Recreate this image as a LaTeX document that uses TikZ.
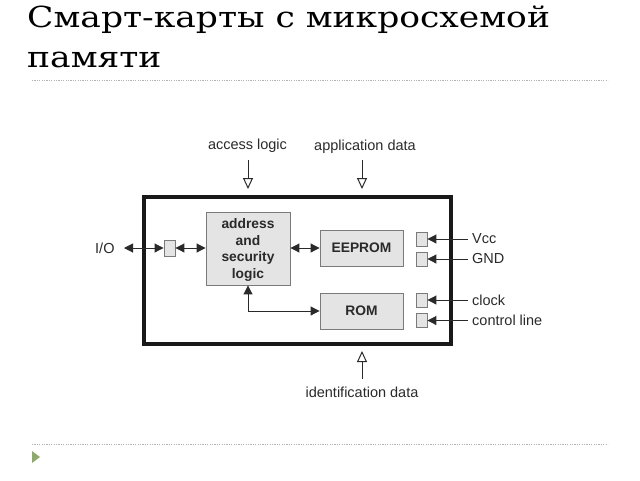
\documentclass[tikz,border=0pt]{standalone}
\usepackage{fontspec}
\setmainfont{Liberation Sans}
\newfontfamily\titlefont[FakeStretch=1.19]{DejaVu Serif}
\usetikzlibrary{arrows.meta}
\definecolor{boxfill}{HTML}{E4E4E4}
\definecolor{boxline}{HTML}{7A7A7A}
\definecolor{txt}{HTML}{2A2A2A}
\definecolor{bullet}{HTML}{8FA870}
\tikzset{
  blkfont/.style={font=\fontsize{13.8}{16.8}\selectfont\bfseries, text=txt, align=center, inner sep=0pt},
  blk/.style={draw=boxline, fill=boxfill, line width=0.9pt, blkfont},
  pad/.style={draw=boxline, fill=boxfill, line width=0.9pt, inner sep=0pt},
  lbl/.style={font=\fontsize{14.5}{17}\selectfont, text=txt, inner sep=0pt},
  conn/.style={draw=txt, line width=1pt},
  ft/.style={-{Triangle[length=9pt,width=9pt]}},
  bt/.style={{Triangle[length=9pt,width=9pt]}-{Triangle[length=9pt,width=9pt]}},
  ot/.style={-{Triangle[open,length=11pt,width=10pt,fill=white]}},
  sep/.style={draw=gray!60, line width=0.8pt, dash pattern=on 1.2pt off 1.2pt},
}
\begin{document}
\begin{tikzpicture}[x=1pt,y=-1pt]
\useasboundingbox (0,0) rectangle (640,480);
% title
\node[anchor=base west, inner sep=0pt, font=\titlefont\fontsize{29}{34}\selectfont] (t1) at (27,27.5) {Смарт-карты с микросхемой};
\node[anchor=base west, inner sep=0pt, font=\titlefont\fontsize{29}{34}\selectfont] (t2) at (27,67) {памяти};
\draw[sep] (32,80) -- (608,80);
\draw[sep] (32,444) -- (608,444);
\fill[bullet] (32,451) -- (40,457) -- (32,463) -- cycle;
% outer box
\draw[line width=4pt, draw=black!90] (144,197) rectangle (451,344);
% blocks
\node[blk, minimum width=84pt, minimum height=73pt] (asl) at (248,248.5) {};
\node[blkfont] (asltxt) at (248,250) {address\\and\\security\\logic};
\node[blk, minimum width=83pt, minimum height=36pt] (ee) at (361.5,248) {EEPROM};
\node[blk, minimum width=83pt, minimum height=36pt] (rom) at (361.5,311) {ROM};
% pads
\node[pad, minimum width=11pt, minimum height=16pt] (pio) at (169.5,248) {};
\node[pad, minimum width=11pt, minimum height=14pt] (pv) at (421.5,239) {};
\node[pad, minimum width=11pt, minimum height=14pt] (pg) at (421.5,259) {};
\node[pad, minimum width=11pt, minimum height=14pt] (pc) at (421.5,300) {};
\node[pad, minimum width=11pt, minimum height=14pt] (pl) at (421.5,320.5) {};
% labels
\node[lbl, anchor=west] (io) at (95,248) {I/O};
\node[lbl] (acc) at (247.5,146) {access logic};
\node[lbl] (app) at (365,147) {application data};
\node[lbl] (idd) at (362,392) {identification data};
\node[lbl, anchor=west] (vcc) at (472,239) {Vcc};
\node[lbl, anchor=west] (gnd) at (472,259) {GND};
\node[lbl, anchor=west] (clk) at (472,300) {clock};
\node[lbl, anchor=west] (ctl) at (472,320.5) {control line};
% connectors
\coordinate (ioe) at (124,248);
\draw[conn, bt] (ioe) -- (pio.west);
\draw[conn, bt] (pio.east) -- (asl.west |- pio.east);
\draw[conn, bt] (asl.east |- ee.west) -- (ee.west);
\draw[conn, bt] (asl.south) |- (rom.west);
\coordinate (accs) at (248,160);
\coordinate (appa) at (362,160);
\coordinate (idda) at (362,379);
\draw[conn, ot] (accs) -- (248,189);
\draw[conn, ot] (appa) -- (362,189);
\draw[conn, ot] (idda) -- (362,351);
\coordinate (vw) at (468,239);
\coordinate (gw) at (468,259);
\coordinate (cw) at (468,300);
\coordinate (lw) at (468,320.5);
\draw[conn, ft] (vw) -- (pv.east);
\draw[conn, ft] (gw) -- (pg.east);
\draw[conn, ft] (cw) -- (pc.east);
\draw[conn, ft] (lw) -- (pl.east);
\end{tikzpicture}
\end{document}
